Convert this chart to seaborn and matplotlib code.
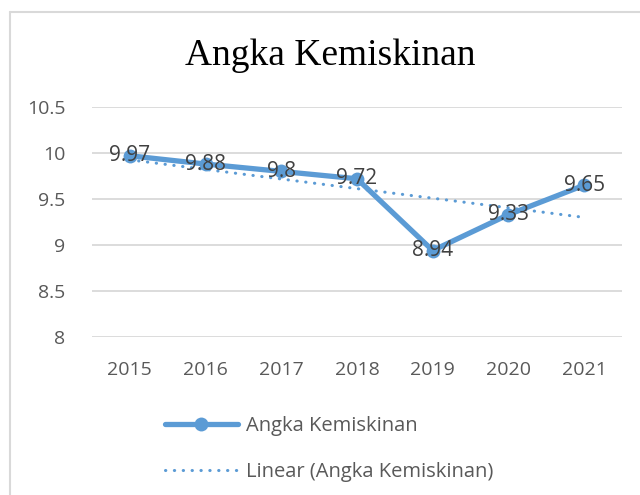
import numpy as np
import pandas as pd
import matplotlib
matplotlib.use("Agg")
import matplotlib.pyplot as plt
import seaborn as sns
from matplotlib.lines import Line2D

# 데이터
tahun = [2015, 2016, 2017, 2018, 2019, 2020, 2021]
angka = [9.97, 9.88, 9.8, 9.72, 8.94, 9.33, 9.65]
label_angka = ["9.97", "9.88", "9.8", "9.72", "8.94", "9.33", "9.65"]
y_ticks = [8, 8.5, 9, 9.5, 10, 10.5]
y_tick_labels = ["8", "8.5", "9", "9.5", "10", "10.5"]

df = pd.DataFrame({"Tahun": tahun, "Angka": angka})

# 추세선 (선형)
coef = np.polyfit(df["Tahun"], df["Angka"], 1)
df["Linear"] = np.polyval(coef, df["Tahun"])

sns.set_theme(style="white")
plt.rcParams["font.family"] = ["Open Sans", "DejaVu Sans"]

biru = "#5B9BD5"
abu = "#595959"

fig = plt.figure(figsize=(6.4, 4.95), dpi=100)
ax = fig.add_axes([92 / 640, 1 - 337 / 495, 530 / 640, 230 / 495])

sns.lineplot(data=df, x="Tahun", y="Angka", ax=ax, color=biru, linewidth=3.8,
             marker="o", markersize=10, markeredgewidth=0, solid_capstyle="round",
             zorder=3)
sns.lineplot(data=df, x="Tahun", y="Linear", ax=ax, color=biru, linewidth=2.2,
             linestyle=(0, (0.1, 2.8)), dash_capstyle="round", zorder=2)

for x, y, s in zip(tahun, angka, label_angka):
    ax.text(x, y, s, ha="center", va="center", fontsize=15, color="#404040", zorder=4)

ax.set_xlim(tahun[0] - 0.5, tahun[-1] + 0.5)
ax.set_ylim(8, 10.5)
ax.set_xticks(tahun)
ax.set_xticklabels([str(t) for t in tahun])
ax.set_yticks(y_ticks)
ax.set_yticklabels(y_tick_labels)
ax.tick_params(axis="both", length=0, labelsize=14, labelcolor=abu)
ax.tick_params(axis="x", pad=17)
ax.tick_params(axis="y", pad=19)
ax.set_xlabel("")
ax.set_ylabel("")
ax.grid(axis="y", color="#D9D9D9", linewidth=1.3)
ax.set_axisbelow(True)
for sp in ax.spines.values():
    sp.set_visible(False)

fig.text(330 / 640, 1 - 56 / 495, "Angka Kemiskinan", ha="center", va="center",
         fontsize=27, family=["Liberation Serif", "DejaVu Serif"], color="black")

# 범례
h1 = Line2D([], [], color=biru, linewidth=3.8, marker="o", markersize=10,
            markeredgewidth=0, solid_capstyle="round")
h2 = Line2D([], [], color=biru, linewidth=2.2, linestyle=(0, (0.1, 2.8)),
            dash_capstyle="round")
fig.legend([h1, h2], ["Angka Kemiskinan", "Linear (Angka Kemiskinan)"],
           loc="upper left", bbox_to_anchor=(165 / 640, 1 - 416 / 495),
           frameon=False, fontsize=14.5, labelcolor=abu, handlelength=3.6,
           handletextpad=0.4, labelspacing=1.3, borderpad=0, borderaxespad=0)

# 차트 테두리
fig.add_artist(Line2D([9.5 / 640, 9.5 / 640], [0, 1 - 11.5 / 495],
                      transform=fig.transFigure, color="#D9D9D9", linewidth=1.5))
fig.add_artist(Line2D([9.5 / 640, 1], [1 - 11.5 / 495, 1 - 11.5 / 495],
                      transform=fig.transFigure, color="#D9D9D9", linewidth=1.5))

fig.savefig("out.png", dpi=100)
